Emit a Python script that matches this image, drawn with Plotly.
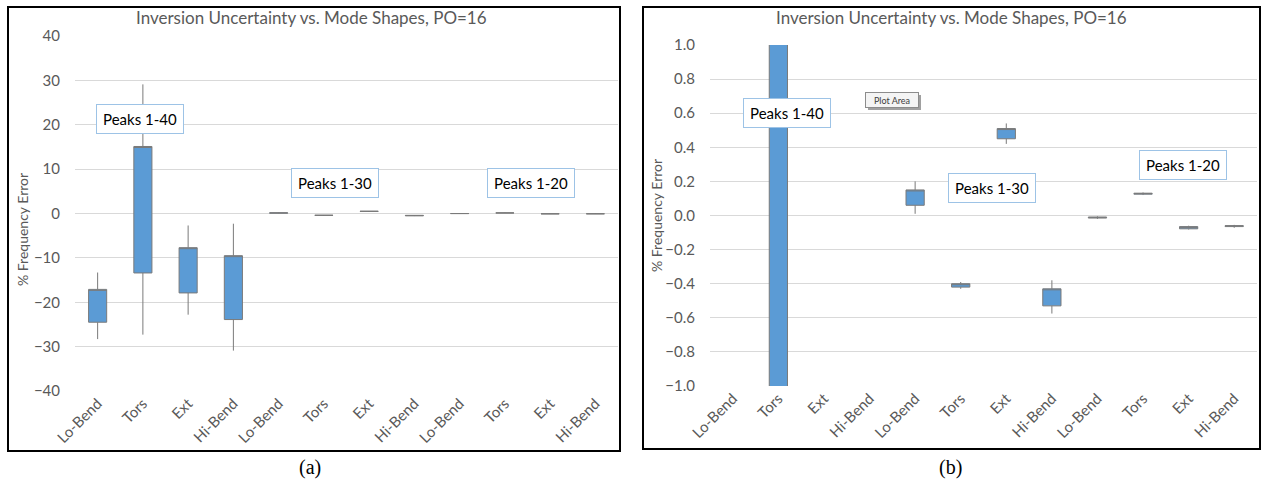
import plotly.graph_objects as go

W, H = 1262, 484

# Mode-shape categories for the three peak sets (1-40, 1-30, 1-20)
categories = ["Lo-Bend", "Tors", "Ext", "Hi-Bend"] * 3
positions = list(range(len(categories)))

# % frequency error statistics per category
whisker_hi = [-13.3, 29.1, -2.7, -2.3, 0.20, -0.39, 0.54, -0.38, -0.005, 0.135, -0.060, -0.055]
box_hi = [-17.1, 15.1, -7.7, -9.5, 0.15, -0.40, 0.51, -0.43, -0.010, 0.130, -0.065, -0.060]
box_lo = [-24.5, -13.4, -17.9, -23.9, 0.06, -0.42, 0.45, -0.53, -0.015, 0.125, -0.078, -0.065]
whisker_lo = [-28.3, -27.3, -22.8, -30.9, 0.01, -0.43, 0.42, -0.575, -0.020, 0.120, -0.082, -0.072]

title_text = "Inversion Uncertainty vs. Mode Shapes, PO=16"
ytitle_text = "% Frequency Error"
group_labels = ["Peaks 1-40", "Peaks 1-30", "Peaks 1-20"]

FONT = "Lato"
GRAY = "#595959"
BLUE = "#5b9bd5"


def px(x):
    return x / W


def py(y):
    return 1 - y / H


fig = go.Figure()
for xa, ya in (("x", "y"), ("x2", "y2")):
    fig.add_trace(go.Box(
        x=positions, q1=box_lo, median=box_hi, q3=box_hi,
        lowerfence=whisker_lo, upperfence=whisker_hi,
        width=0.4, whiskerwidth=0, fillcolor=BLUE,
        line=dict(color="#7a7a7a", width=1),
        xaxis=xa, yaxis=ya, showlegend=False, hoverinfo="skip",
    ))

xcommon = dict(range=[-0.5, 11.5], tickmode="array", tickvals=positions, ticktext=categories,
               tickangle=-45, showgrid=False, zeroline=False, showline=False, ticks="",
               automargin=False,
               tickfont=dict(family=FONT, size=15, color=GRAY), fixedrange=True)
ycommon = dict(showgrid=True, gridcolor="#d9d9d9", gridwidth=1, zeroline=False, showline=False,
               ticks="", ticklabelstandoff=14, automargin=False,
               tickfont=dict(family=FONT, size=15, color=GRAY))

fig.update_layout(
    width=W, height=H, margin=dict(l=0, r=0, t=0, b=0, autoexpand=False),
    paper_bgcolor="white", plot_bgcolor="white",
    xaxis=dict(domain=[px(75), px(618)], anchor="y", **xcommon),
    yaxis=dict(domain=[py(391), py(36)], anchor="x", range=[-40, 40], dtick=10, **ycommon),
    xaxis2=dict(domain=[px(710), px(1257)], anchor="y2", **xcommon),
    yaxis2=dict(domain=[py(386), py(45)], anchor="x2", range=[-1, 1], dtick=0.2,
                tickformat=".1f", **ycommon),
)

shapes = []
# panel frames
for x0, x1, y0, y1 in ((8, 620, 7, 451), (643, 1260, 7, 449)):
    shapes.append(dict(type="rect", xref="paper", yref="paper", x0=px(x0), x1=px(x1),
                       y0=py(y1), y1=py(y0), line=dict(color="black", width=2), layer="above"))
# drop shadow behind the "Plot Area" tag
shapes.append(dict(type="rect", xref="paper", yref="paper", x0=px(868), x1=px(921),
                   y0=py(110), y1=py(95), line=dict(width=0), fillcolor="#a0a0a0", layer="above"))
fig.update_layout(shapes=shapes)


def note(text, cx, cy, **kw):
    return dict(text=text, x=px(cx), y=py(cy), xref="paper", yref="paper",
                xanchor="center", yanchor="middle", showarrow=False, **kw)


ann = []
for cx in (311, 951):
    ann.append(note(title_text, cx, 18, font=dict(family=FONT, size=17, color=GRAY)))
for cx, cy in ((22, 230), (656, 216)):
    ann.append(note(ytitle_text, cx, cy, textangle=-90,
                    font=dict(family=FONT, size=14, color=GRAY)))
for cx, lab in ((310, "(a)"), (950, "(b)")):
    ann.append(note(lab, cx, 467, font=dict(family="Liberation Serif", size=20, color="black")))

# group label boxes: (centre x, centre y) in pixels
label_boxes = [
    ((140, 119), (335, 183), (531, 183)),
    ((787, 113), (992, 188), (1183, 165)),
]
for boxes in label_boxes:
    for (cx, cy), lab in zip(boxes, group_labels):
        ann.append(note(lab, cx, cy, width=84, height=26, borderpad=1,
                        bordercolor="#9dc3e6", borderwidth=1, bgcolor="white",
                        font=dict(family=FONT, size=15, color="black")))

ann.append(note("Plot Area", 892, 100, width=50, height=12, borderpad=1,
                bordercolor="#8c8c8c", borderwidth=1, bgcolor="#f4f4f4",
                font=dict(family=FONT, size=9, color="#404040")))
fig.update_layout(annotations=ann)

# page without default body margin so the figure fills the window exactly
fig.write_html("out.html", post_script=(
    "document.documentElement.style.margin='0';"
    "document.body.style.margin='0';"
    "document.body.style.overflow='hidden';"))
